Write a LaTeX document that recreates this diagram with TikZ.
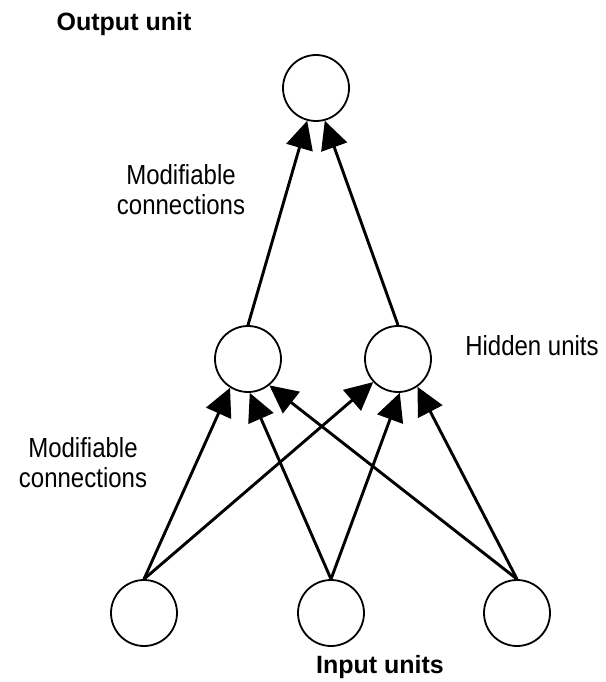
\documentclass[tikz,border=0pt]{standalone}
\usepackage{fontspec}
\setmainfont{Liberation Sans}
\usetikzlibrary{arrows.meta}
% taller, narrow-looking lettering for the plain labels
\newcommand\stretchtxt[1]{\scalebox{1}[1.15]{#1}}
\begin{document}
\begin{tikzpicture}[x=1pt,y=-1pt,
  unit/.style={circle,draw,line width=1.8pt,minimum size=66pt,inner sep=0pt},
  conn/.style={line width=2.9pt,-{Triangle[length=28pt,width=27pt]}},
  lbl/.style={font=\fontsize{24}{30}\selectfont,align=center,inner sep=0pt},
  blbl/.style={font=\bfseries\fontsize{25}{30}\selectfont,inner sep=0pt,anchor=base}]
\useasboundingbox (0,0) rectangle (605,682);

% units
\node[unit] (out) at (316,88) {};
\node[unit] (h1) at (248,359) {};
\node[unit] (h2) at (398,359) {};
\node[unit] (i1) at (144,613) {};
\node[unit] (i2) at (331,613) {};
\node[unit] (i3) at (517,613) {};

% hidden -> output
\draw[conn] (h1.90) -- (out.255);
\draw[conn] (h2.90) -- (out.285);

% input -> hidden
\draw[conn] (i1.90) -- (h1.238);
\draw[conn] (i1.90) -- (h2.223);
\draw[conn] (i2.90) -- (h1.273);
\draw[conn] (i2.90) -- (h2.273);
\draw[conn] (i3.90) -- (h1.309);
\draw[conn] (i3.90) -- (h2.305);

% labels
\node[blbl] (tout) at (124,31) {Output unit};
\node[blbl] (tin) at (380,673) {Input units};
\node[lbl,anchor=base] (thid) at (532,355) {\stretchtxt{Hidden units}};
\node[lbl] (tmod1) at (181,190) {\stretchtxt{Modifiable}\\\stretchtxt{connections}};
\node[lbl] (tmod2) at (83,463) {\stretchtxt{Modifiable}\\\stretchtxt{connections}};
\end{tikzpicture}
\end{document}
